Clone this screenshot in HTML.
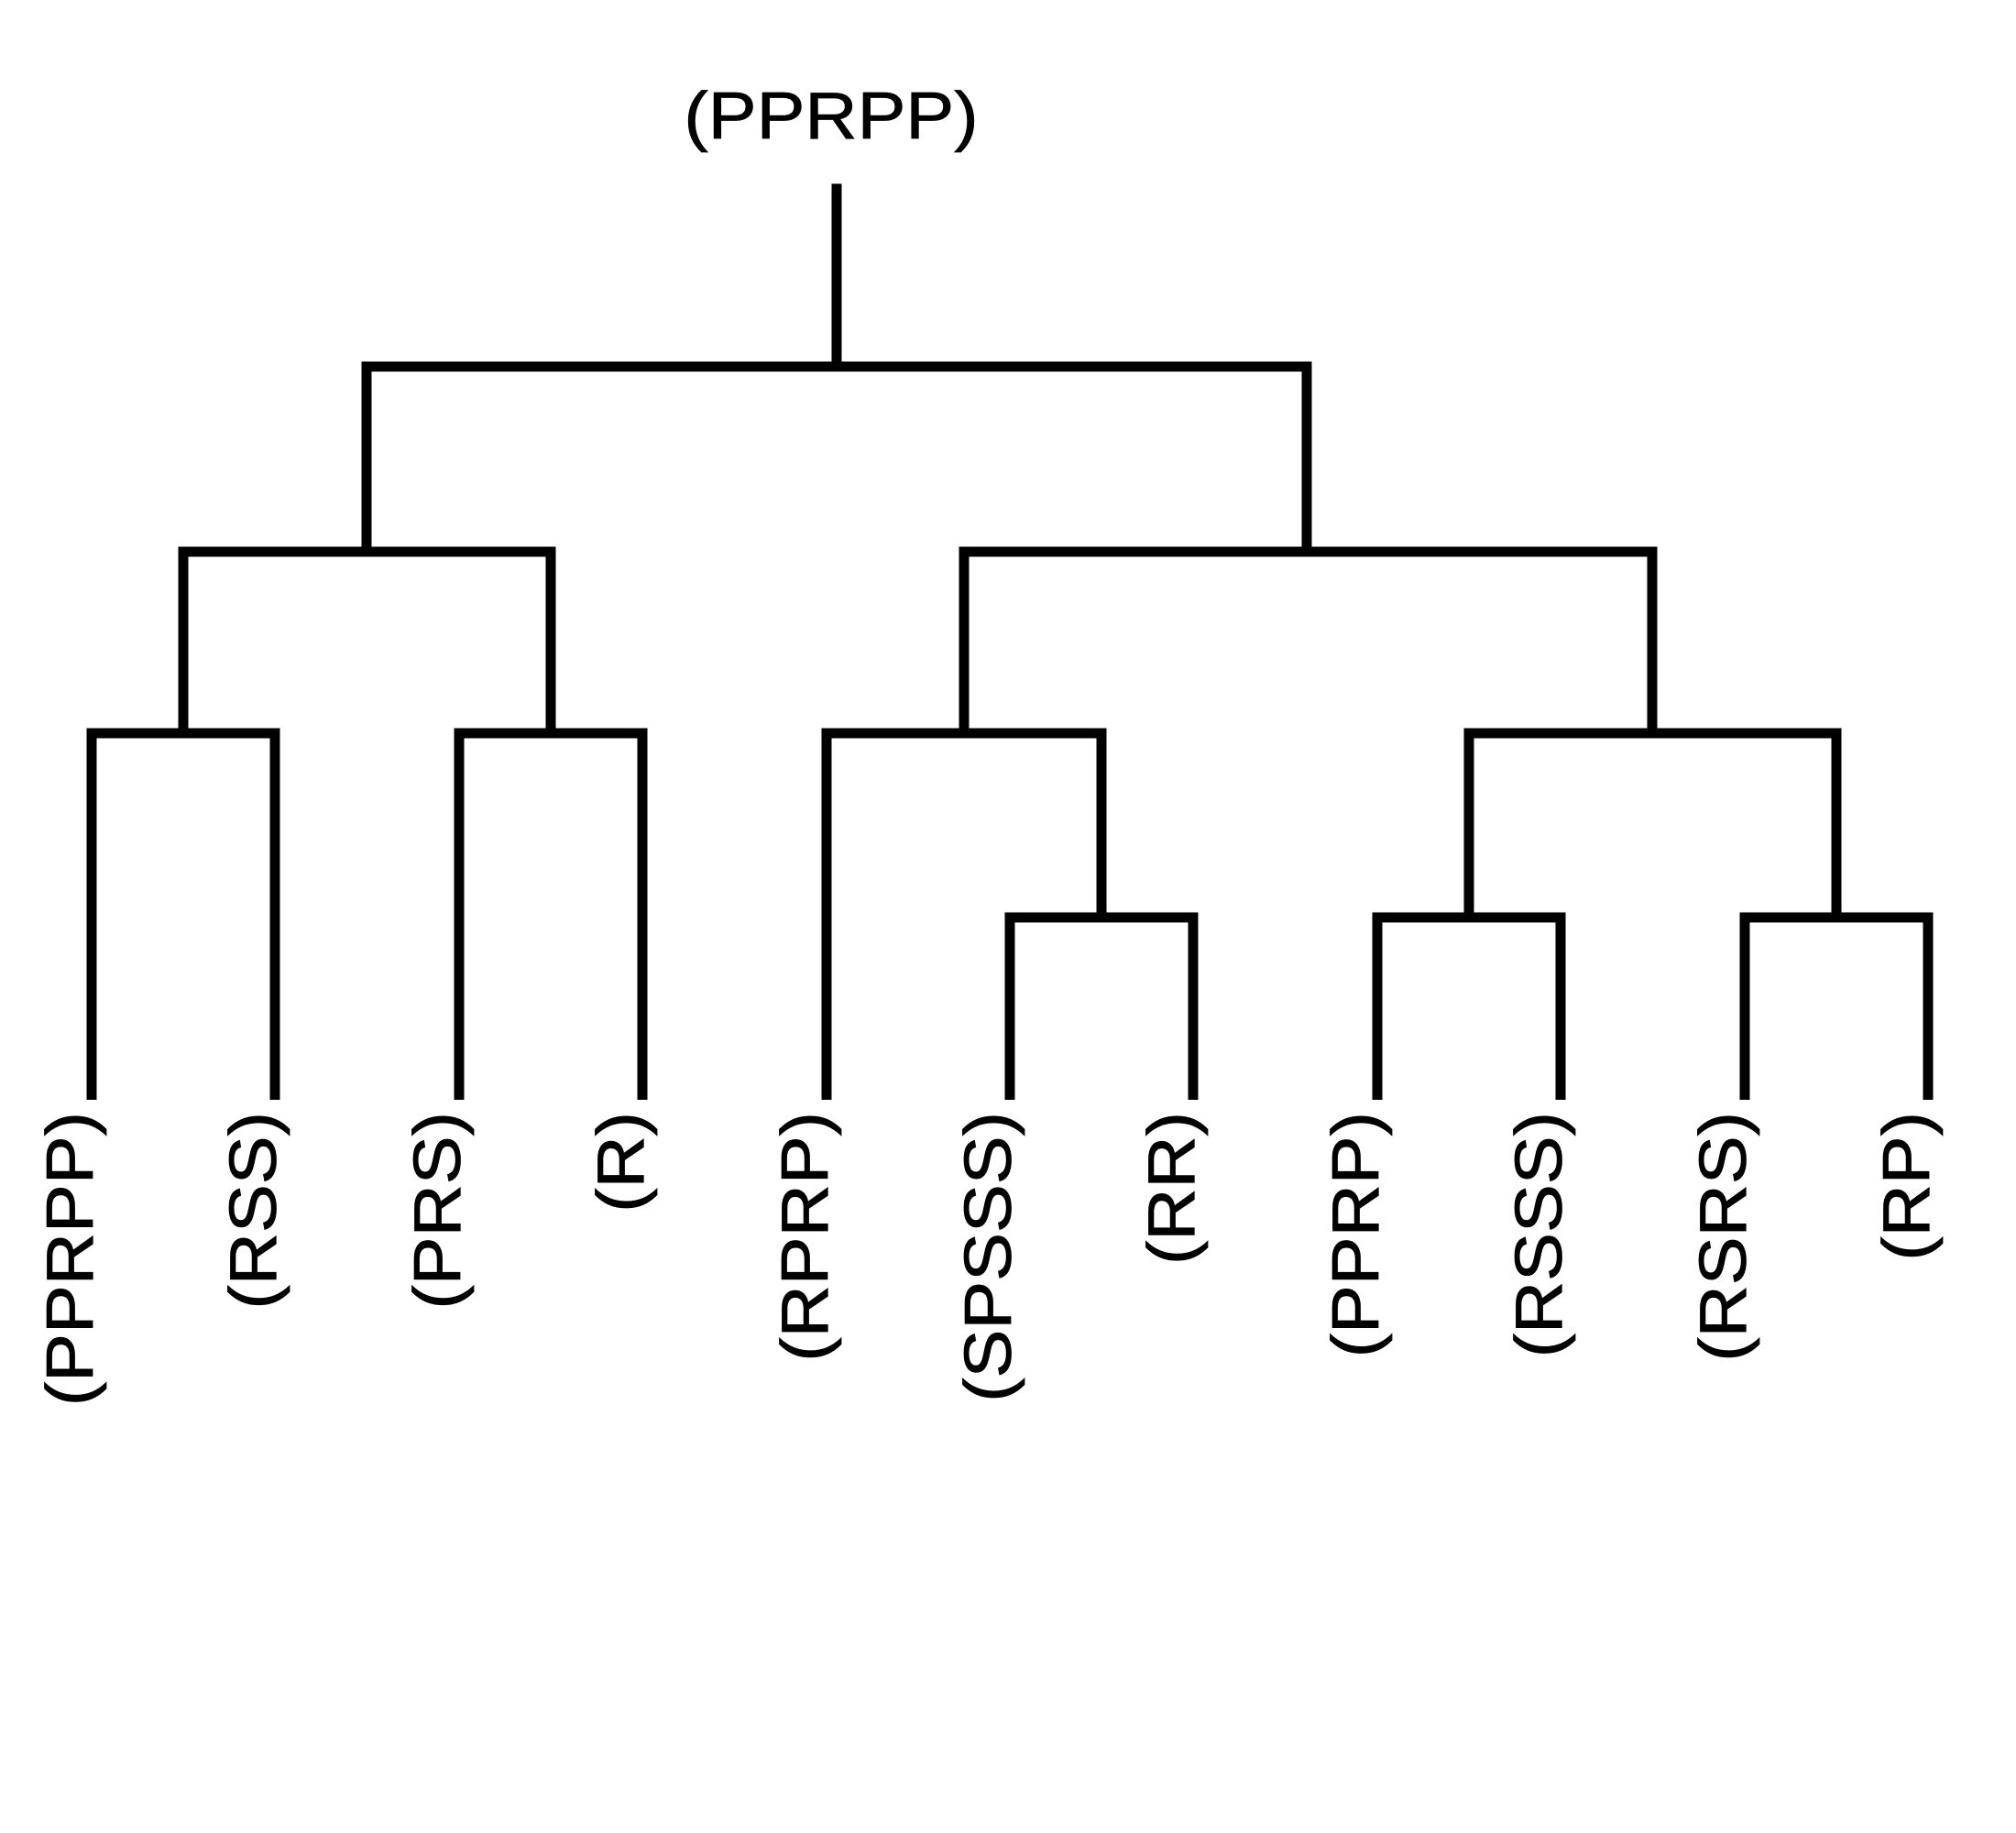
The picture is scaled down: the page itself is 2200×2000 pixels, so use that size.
<!DOCTYPE html>
<html><head><meta charset="utf-8"><style>html,body{margin:0;padding:0;background:#fff}svg{display:block}</style></head>
<body>
<svg width="2200" height="2000" viewBox="0 0 2200 2000" xmlns="http://www.w3.org/2000/svg">
<rect width="2200" height="2000" fill="#fff"/>
<g stroke="#000" stroke-width="11" fill="none" stroke-linecap="square">
<line x1="913" y1="206" x2="913" y2="400"/>
<line x1="400" y1="400" x2="1426" y2="400"/>
<line x1="400" y1="400" x2="400" y2="602"/>
<line x1="1426" y1="400" x2="1426" y2="602"/>
<line x1="200" y1="602" x2="601" y2="602"/>
<line x1="200" y1="602" x2="200" y2="800"/>
<line x1="601" y1="602" x2="601" y2="800"/>
<line x1="1052" y1="602" x2="1803" y2="602"/>
<line x1="1052" y1="602" x2="1052" y2="800"/>
<line x1="1803" y1="602" x2="1803" y2="800"/>
<line x1="100" y1="800" x2="300" y2="800"/>
<line x1="501" y1="800" x2="701" y2="800"/>
<line x1="902" y1="800" x2="1202" y2="800"/>
<line x1="1603" y1="800" x2="2004" y2="800"/>
<line x1="1202" y1="800" x2="1202" y2="1001"/>
<line x1="1603" y1="800" x2="1603" y2="1001"/>
<line x1="2004" y1="800" x2="2004" y2="1001"/>
<line x1="1102" y1="1001" x2="1302" y2="1001"/>
<line x1="1503" y1="1001" x2="1703" y2="1001"/>
<line x1="1904" y1="1001" x2="2104" y2="1001"/>
</g>
<g stroke="#000" stroke-width="11" fill="none">
<line x1="100" y1="800" x2="100" y2="1200"/>
<line x1="300" y1="800" x2="300" y2="1200"/>
<line x1="501" y1="800" x2="501" y2="1200"/>
<line x1="701" y1="800" x2="701" y2="1200"/>
<line x1="902" y1="800" x2="902" y2="1200"/>
<line x1="1102" y1="1001" x2="1102" y2="1200"/>
<line x1="1302" y1="1001" x2="1302" y2="1200"/>
<line x1="1503" y1="1001" x2="1503" y2="1200"/>
<line x1="1703" y1="1001" x2="1703" y2="1200"/>
<line x1="1904" y1="1001" x2="1904" y2="1200"/>
<line x1="2104" y1="1001" x2="2104" y2="1200"/>
</g>
<g font-family="Liberation Sans, Arial, sans-serif" font-size="72" fill="#000" stroke="#000" stroke-width="0.8">
<text transform="translate(907,151) scale(1.1,1)" text-anchor="middle">(PPRPP)</text>
<text transform="translate(101,1213) rotate(-90) scale(1.1,1)" text-anchor="end">(PPRPP)</text>
<text transform="translate(301,1213) rotate(-90) scale(1.1,1)" text-anchor="end">(RSS)</text>
<text transform="translate(502,1213) rotate(-90) scale(1.1,1)" text-anchor="end">(PRS)</text>
<text transform="translate(702,1213) rotate(-90) scale(1.1,1)" text-anchor="end">(R)</text>
<text transform="translate(903,1213) rotate(-90) scale(1.1,1)" text-anchor="end">(RPRP)</text>
<text transform="translate(1103,1213) rotate(-90) scale(1.1,1)" text-anchor="end">(SPSSS)</text>
<text transform="translate(1303,1213) rotate(-90) scale(1.1,1)" text-anchor="end">(RR)</text>
<text transform="translate(1504,1213) rotate(-90) scale(1.1,1)" text-anchor="end">(PPRP)</text>
<text transform="translate(1704,1213) rotate(-90) scale(1.1,1)" text-anchor="end">(RSSS)</text>
<text transform="translate(1905,1213) rotate(-90) scale(1.1,1)" text-anchor="end">(RSRS)</text>
<text transform="translate(2105,1213) rotate(-90) scale(1.1,1)" text-anchor="end">(RP)</text>
</g>
</svg>
</body></html>
